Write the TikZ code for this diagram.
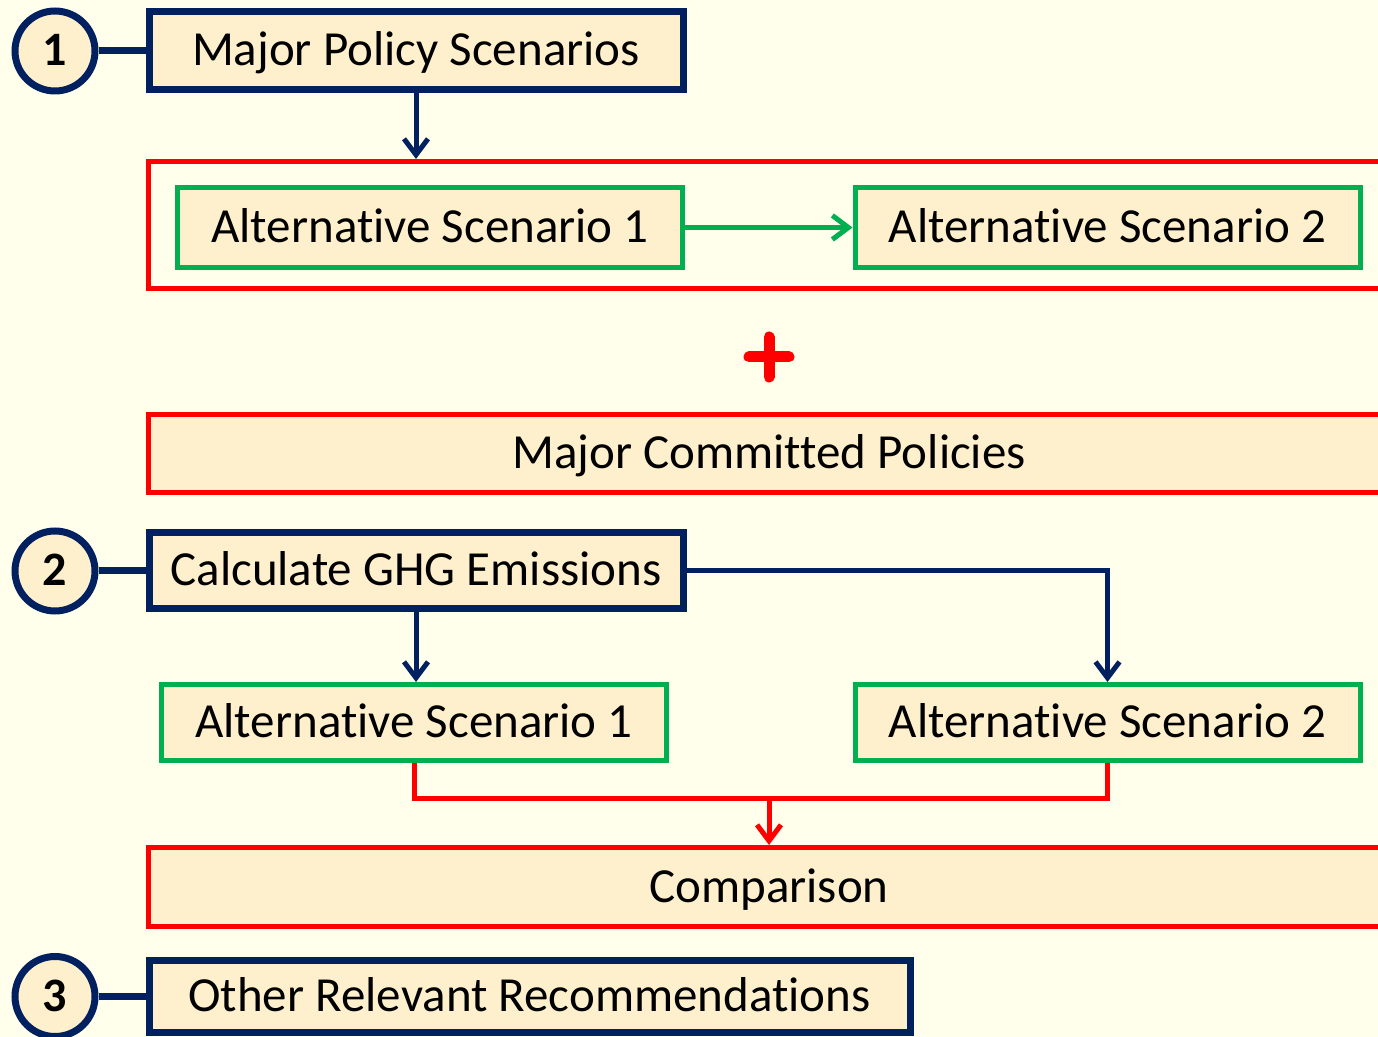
\documentclass[tikz,border=0pt]{standalone}
\usepackage{fontspec}
\setmainfont[Ligatures=NoCommon]{Carlito}
\usetikzlibrary{arrows.meta}

\definecolor{navy}{HTML}{002060}
\definecolor{leaf}{HTML}{00B050}
\definecolor{signal}{HTML}{FF0000}
\definecolor{paper}{HTML}{FFFFEC}
\definecolor{cream}{HTML}{FFF0CD}

\tikzset{
  boxtext/.style={inner sep=0pt,text height=15pt,text depth=0pt},
  navybox/.style={boxtext,draw=navy,line width=3.5pt,fill=cream},
  leafbox/.style={boxtext,draw=leaf,line width=2.5pt,fill=cream},
  signalbox/.style={boxtext,draw=signal,line width=2.5pt,fill=cream},
  stepnum/.style={boxtext,circle,draw=navy,line width=3.5pt,fill=cream,minimum size=40pt,font=\fontsize{24}{28}\selectfont\bfseries},
  navyline/.style={draw=navy,line width=2.5pt},
  leafline/.style={draw=leaf,line width=2.5pt},
  signalline/.style={draw=signal,line width=2.5pt},
  >={Straight Barb[length=8pt,width=12pt]}
}

\begin{document}
\begin{tikzpicture}[x=0.5pt,y=-0.5pt,font=\fontsize{24.5}{28}\selectfont]
\useasboundingbox (0,0) rectangle (1378,1037);
\fill[paper] (0,0) rectangle (1378,1037);
% step 1: scenarios
\node[stepnum] (num-1) at (55,51) {1};
\node[navybox,minimum width=267pt,minimum height=39pt] (policy-scen) at (416,51) {Major Policy Scenarios};
\node[signalbox,fill=none,minimum width=621pt,minimum height=63.5pt] (scen-frame) at (769,225) {};
\node[leafbox,minimum width=252.5pt,minimum height=40pt] (alt-1-a) at (430,227.5) {Alternative Scenario 1};
\node[leafbox,minimum width=252.5pt,minimum height=40pt] (alt-2-a) at (1107.5,227.5) {Alternative Scenario 2};
\node[signalbox,minimum width=621pt,minimum height=39pt] (committed) at (769,453.5) {Major Committed Policies};
\draw[navyline,line width=3.5pt] (num-1) -- (num-1 -| policy-scen.west);
\draw[navyline,->] (policy-scen.south) -- (policy-scen.south |- scen-frame.north);
\draw[leafline,->] (alt-1-a.east) -- (alt-2-a.west);
\draw[signal,line width=5.5pt,line cap=round] (749,357) -- (789,357) (769,337) -- (769,377);
% step 2: emissions
\node[stepnum] (num-2) at (55,571) {2};
\node[navybox,minimum width=267pt,minimum height=38pt] (ghg) at (416,571) {Calculate GHG Emissions};
\node[leafbox,minimum width=252.5pt,minimum height=38pt] (alt-1-b) at (414,722.5) {Alternative Scenario 1};
\node[leafbox,minimum width=252.5pt,minimum height=38pt] (alt-2-b) at (1107.5,722.5) {Alternative Scenario 2};
\node[signalbox,minimum width=621pt,minimum height=39.5pt] (compare) at (769,887) {Comparison};
\coordinate (join) at (769,798.5);
\draw[navyline,line width=3.5pt] (num-2) -- (num-2 -| ghg.west);
\draw[navyline,->] (ghg.south) -- (ghg.south |- alt-1-b.north);
\draw[navyline,->] (ghg.east) -| (alt-2-b.north);
\draw[signalline] (alt-1-b.south) |- (join) -| (alt-2-b.south);
\draw[signalline,->] (join) -- (compare.north);
% step 3: recommendations
\node[stepnum] (num-3) at (55,996.5) {3};
\node[navybox,minimum width=380.5pt,minimum height=36pt] (other) at (529.5,996.5) {Other Relevant Recommendations};
\draw[navyline,line width=3.5pt] (num-3) -- (num-3 -| other.west);
\end{tikzpicture}
\end{document}
